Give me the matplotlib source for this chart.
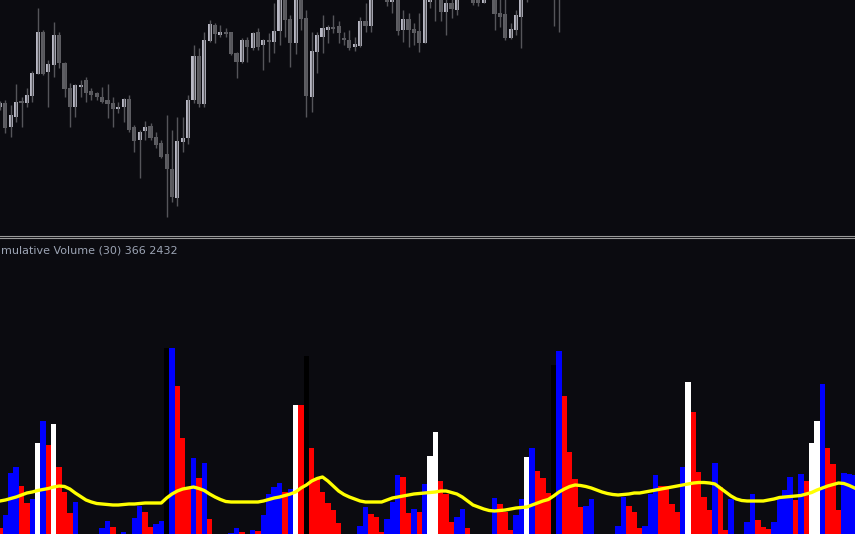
import numpy as np
import matplotlib.pyplot as plt
from matplotlib.lines import Line2D

bg = "#0b0b10"

# ---- price candles (chart points, higher = higher price) ----
opens = [125, 129, 105, 115, 131, 129, 136, 158, 200, 160, 167, 197, 169, 144, 125, 145, 152, 141, 139, 135,
         132, 129, 123, 125, 133, 105, 92, 101, 106, 95, 89, 78, 63, 34, 90, 94, 132, 176, 128, 191,
         207, 197, 200, 200, 179, 170, 192, 184, 200, 187, 192, 190, 201, 240, 213, 189, 242, 214, 135, 180,
         195, 202, 205, 206, 194, 192, 185, 186, 211, 206, 240, 252, 237, 230, 235, 202, 213, 203, 201, 189,
         230, 247, 235, 220, 229, 222, 238, 252, 236, 236, 229, 240, 236, 219, 218, 194, 202, 215, 252, 242,
         252, 267, 244, 262, 240]
highs = [131, 132, 127, 148, 135, 144, 161, 224, 202, 172, 210, 200, 170, 149, 148, 152, 155, 144, 140, 145,
         148, 135, 130, 134, 137, 107, 102, 111, 109, 100, 92, 117, 102, 115, 115, 137, 187, 184, 200, 212,
         209, 207, 204, 200, 180, 194, 195, 200, 204, 193, 199, 229, 242, 244, 217, 240, 247, 222, 200, 200,
         217, 207, 217, 211, 200, 202, 195, 215, 229, 242, 257, 257, 242, 240, 240, 222, 219, 209, 219, 238,
         240, 252, 240, 234, 233, 240, 257, 257, 240, 240, 242, 257, 240, 234, 233, 209, 222, 240, 257, 262,
         272, 272, 267, 272, 277]
lows = [122, 99, 95, 110, 105, 125, 130, 158, 157, 125, 155, 164, 135, 105, 115, 135, 130, 132, 132, 129,
        114, 105, 119, 110, 100, 80, 54, 92, 92, 84, 74, 15, 30, 26, 80, 88, 129, 125, 125, 190,
        189, 195, 195, 177, 154, 169, 170, 182, 182, 162, 170, 179, 187, 195, 165, 178, 202, 115, 120, 159,
        179, 189, 199, 189, 187, 182, 181, 185, 200, 200, 235, 237, 226, 219, 197, 190, 185, 187, 180, 189,
        224, 211, 211, 197, 214, 217, 234, 234, 227, 226, 229, 236, 202, 205, 192, 193, 197, 184, 230, 237,
        244, 247, 238, 206, 200]
closes = [129, 104, 117, 130, 129, 137, 159, 200, 158, 168, 197, 169, 143, 125, 147, 147, 139, 137, 135, 130,
          128, 123, 125, 133, 102, 91, 100, 105, 94, 87, 75, 63, 35, 91, 94, 132, 176, 128, 192, 208,
          198, 200, 198, 178, 170, 192, 185, 199, 185, 192, 190, 201, 237, 212, 189, 235, 213, 136, 181, 197,
          204, 205, 203, 199, 192, 184, 188, 211, 206, 237, 252, 242, 230, 235, 201, 213, 202, 199, 189, 234,
          235, 235, 220, 229, 223, 236, 252, 238, 229, 229, 238, 252, 218, 215, 194, 203, 217, 236, 240, 257,
          267, 254, 262, 237, 267]

# ---- volume histogram ----
volumes = [6, 19, 61, 67, 48, 31, 35, 91, 113, 89, 110, 67, 42, 21, 32, 0, 0, 0, 0, 6,
           13, 7, 0, 2, 0, 16, 28, 22, 7, 10, 13, 186, 186, 148, 96, 45, 76, 56, 71, 15,
           0, 0, 0, 1, 6, 2, 0, 4, 3, 19, 40, 47, 51, 42, 45, 129, 129, 178, 86, 55,
           42, 31, 24, 11, 0, 0, 0, 8, 27, 20, 17, 2, 15, 32, 59, 57, 21, 25, 22, 50,
           78, 102, 53, 40, 12, 17, 25, 6, 0, 0, 0, 0, 36, 30, 22, 4, 19, 35, 77, 86,
           63, 56, 41, 169, 183, 138, 82, 55, 27, 28, 35, 0, 0, 0, 0, 8, 37, 28, 22, 6,
           8, 40, 59, 48, 48, 30, 22, 67, 152, 122, 62, 37, 24, 71, 47, 4, 35, 0, 0, 12,
           40, 14, 7, 5, 12, 35, 44, 57, 34, 60, 53, 91, 113, 150, 86, 70, 24, 61, 60, 59]
vol_kind = ("rbbbrrbwbrwrrrbbbbbb" "brbbbbbrrbbkbrrrbrbr"
            "bbbbbrbbrbbbbrbwrkrr" "rrrrbbbbbrrrbbbrrbrb"
            "wwrrrbbrbbbbbrrrbbwb" "rrrkbrrrrbbbbbbbbrrr"
            "bbbrrrrbwrrrrbrrbbbb" "brrrbbbbrbrwwbrrrbbb")
vol_avg = [33, 34, 35.5, 37, 39, 41, 42, 43.5, 44.5, 45.5, 47, 48, 47.5, 45, 41, 37.5, 34, 32, 30.5, 30,
           29.5, 29, 29, 29.5, 30, 30, 30.5, 31, 31, 31, 31, 36, 40, 43, 45, 46, 47, 45.5, 43.5, 40,
           37, 34.5, 32.5, 32, 32, 32, 32, 32, 32, 33, 34.5, 36, 37, 38.5, 40, 42, 46, 49, 53, 55.5,
           57, 53, 48, 43, 39.5, 37, 35, 33, 32, 32, 32, 32, 34, 36, 37, 38, 39, 40, 40.5, 41,
           41.5, 42, 43, 43, 41.5, 40, 37, 33, 29, 27, 25, 23.5, 23, 23.5, 24, 25, 26, 26.5, 27, 29,
           31, 33, 34.5, 38, 42, 45, 47.5, 49, 48.5, 47.5, 46, 44, 42, 40.5, 39.5, 39, 39.5, 40, 41, 41,
           42, 43, 44, 45, 46, 47, 48, 49, 50, 51, 51.5, 51.5, 51, 50, 46, 42, 38, 35, 33.5, 33,
           33, 33, 33, 34, 35, 36.5, 37, 37.5, 38, 38.5, 40, 41.5, 44, 46, 48, 49.5, 51, 50.5, 48.5, 46]

kind_colors = {"r": "#ff0000", "b": "#0000ff", "w": "#ffffff", "k": "#000000"}

W, H = 855, 534
fig = plt.figure(figsize=(W / 100, H / 100), dpi=100, facecolor=bg)

# price pane
ax_p = fig.add_axes([0, 1 - 232 / H, 1, 232 / H])
ax_p.set_facecolor(bg)
n = len(opens)
x = np.arange(n)
o = np.array(opens)
c = np.array(closes)
up = c >= o
ax_p.vlines(x, lows, highs, color="#55555a", lw=1.0)
body_col = np.where(up, "#b8b8c4", "#5e5e63")
ax_p.bar(x, np.maximum(np.abs(c - o), 1.5), bottom=np.minimum(o, c), width=0.78,
         color=body_col, linewidth=0, antialiased=False)
ax_p.set_xlim(0, W / 5.375)
ax_p.set_ylim(0, 232)
ax_p.axis("off")

# volume pane
ax_v = fig.add_axes([0, 0, 1, 294 / H])
ax_v.set_facecolor(bg)
xv = np.arange(len(volumes))
ax_v.bar(xv, volumes, width=1.0, color=[kind_colors[k] for k in vol_kind],
         linewidth=0, antialiased=False)
ax_v.plot(xv, vol_avg, color="#ffff00", lw=2.4)
ax_v.set_xlim(0, W / 5.375)
ax_v.set_ylim(0, 294)
ax_v.axis("off")

# separator between panes
for yy in (235.5, 238.5):
    fig.add_artist(Line2D([0, 1], [1 - yy / H] * 2, color="#9a9a9a", lw=0.8))

fig.text(1 / W, 1 - 251 / H, "mulative Volume (30) 366 2432", color="#9ca4b4",
         fontsize=8, va="center", ha="left")

fig.savefig("out.png", dpi=100, facecolor=bg)
